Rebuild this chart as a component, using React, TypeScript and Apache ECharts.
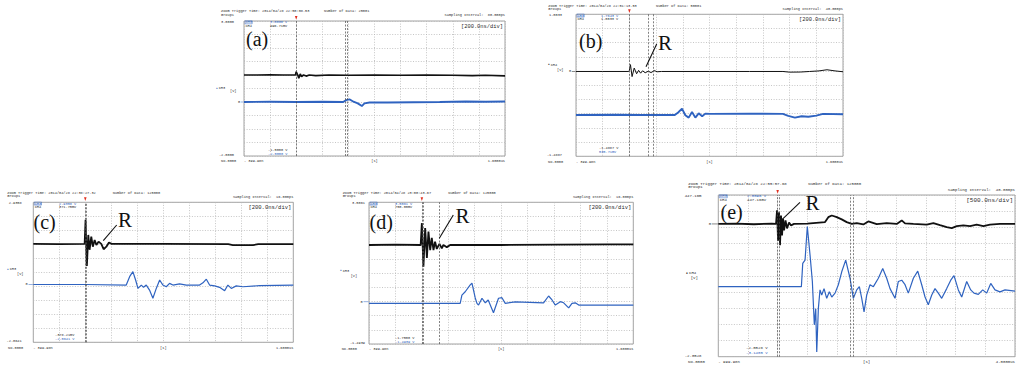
import React, { useEffect, useRef } from 'react';
import * as echarts from 'echarts';

type Pt = [number, number];

// ---------------- data ----------------
const PANEL_LETTERS = ['(a)', '(b)', '(c)', '(d)', '(e)'];
const TRIGGER_TIMES = ['2014/04/28 22:50:08.53', '2014/04/28 22:51:13.53', '2014/04/28 22:38:27.32', '2014/04/28 23:00:43.67', '2014/04/28 22:55:57.68'];
const DATA_COUNTS = ['25001', '50001', '125000', '125000', '125000'];
const SAMPLING_INTERVALS = ['80.000ps', '40.000ps', '16.000ps', '16.000ps', '40.000ps'];
const TIME_DIV_LABELS = ['[200.0ns/div]', '[200.0ns/div]', '[200.0ns/div]', '[200.0ns/div]', '[500.0ns/div]'];
const X_START_LABELS = ['- 399.98n', '- 399.98n', '- 399.98n', '- 399.98n', '- 999.98n'];
const X_END_LABELS = ['1.6000us', '1.6000us', '1.6000us', '1.6000us', '4.0000us'];
const X_MIN = [-400, -400, -400, -400, -1000];
const X_MAX = [1600, 1600, 1600, 1600, 4000];
const X_STEP = [200, 200, 200, 200, 500];
const Y_MIN = [-2, -1.4887, -2.0641, -1.4939, -2.0528];
const Y_MAX = [3, 1.0033, 2.9359, 3.5061, 0.4472];
const Y_STEP = [0.5, 0.2492, 0.5, 0.5, 0.25];
const Y_TOP_LABELS = ['3.0000', '1.0033', '2.9358', '3.5061', '447.16m'];
const Y_BOTTOM_LABELS = ['-2.0000', '-1.4887', '-2.0641', '-1.4939', '-2.0528'];
const Y_CHANNELS = ['CH3', 'CH4', 'CH3', 'CH3', 'CH4'];
const CH3_READOUTS = ['3.0000 V', '1.7643 V', '2.9358 V', '3.5061 V', '2.0096 V'];
const CH4_READOUTS = ['996.71mV', '1.0033 V', '371.75mV', '750.00mV', '447.16mV'];
const CH4_CURSOR = ['-1.5000 V', '-1.4887 V', '-378.21mV', '-1.7500 V', '-2.0528 V'];
const CH3_CURSOR = ['-2.0000 V', '535.71mV', '-2.0641 V', '-1.4939 V', '-3.1405 V'];
const CURSOR_TIMES = [[0, 375, 391], [0, 138, 180], [0, 10], [0, 12, 133], [0, 20, 1230, 1270]];
const HAS_R = [false, true, true, true, true];

// CH4 (black) and CH3 (blue) traces, in volts of each panel's displayed axis, time in ns
const A_BLACK: Pt[] = [[-400, 1.0], [-300, 1.0], [-200, 1.01], [-100, 1.0], [-5, 1.0], [0, 1.12], [12, 1.0], [20, 0.88], [31, 1.04], [41, 0.94], [56, 1.0], [77, 0.96], [100, 1.0], [150, 0.98], [250, 1.0], [400, 0.99], [600, 1.0], [800, 0.99], [1000, 1.0], [1200, 0.99], [1350, 0.98], [1450, 0.99], [1600, 0.97]];
const A_BLUE: Pt[] = [[-400, 0], [-200, 0.01], [0, 0], [200, 0.01], [360, 0], [383, 0.07], [408, 0.1], [439, 0.01], [472, -0.05], [503, -0.15], [523, -0.05], [562, -0.02], [700, -0.02], [900, -0.01], [1100, 0], [1300, 0.02], [1450, 0.01], [1600, 0.02]];

const B_BLACK: Pt[] = [[-400, 0], [-200, 0], [-5, 0], [0, 0.02], [8, 0.12], [20, -0.09], [36, 0.06], [54, -0.04], [69, 0.02], [84, -0.03], [99, 0.012], [118, -0.023], [141, 0.004], [163, -0.02], [186, 0.016], [208, -0.005], [240, 0], [600, 0], [900, 0], [1150, 0], [1200, -0.012], [1280, -0.01], [1350, 0], [1420, 0.01], [1480, 0.03], [1540, 0.01], [1600, -0.005]];
const B_BLUE: Pt[] = [[-400, -0.764], [-100, -0.76], [100, -0.765], [340, -0.764], [365, -0.72], [394, -0.652], [419, -0.769], [444, -0.81], [469, -0.711], [494, -0.81], [519, -0.734], [545, -0.787], [569, -0.74], [607, -0.745], [900, -0.74], [1150, -0.745], [1190, -0.78], [1240, -0.81], [1290, -0.785], [1340, -0.795], [1400, -0.775], [1450, -0.745], [1600, -0.75]];

const C_BLACK: Pt[] = [[-400, 1.45], [-200, 1.44], [-5, 1.45], [0, 1.45], [2, 2.31], [12, 0.66], [23, 1.77], [33, 1.24], [46, 1.71], [58, 1.35], [72, 1.59], [85, 1.41], [102, 1.53], [123, 1.45], [141, 1.26], [162, 1.35], [182, 1.5], [202, 1.45], [600, 1.45], [1100, 1.44], [1135, 1.41], [1290, 1.41], [1330, 1.44], [1600, 1.44]];
const C_BLUE: Pt[] = [[-400, 0], [0, 0], [315, -0.02], [341, 0.28], [366, 0.46], [387, 0.16], [405, -0.14], [431, -0.02], [448, -0.1], [469, -0.02], [494, -0.2], [520, -0.49], [546, -0.14], [572, 0.16], [597, -0.02], [623, -0.08], [648, 0.04], [674, -0.02], [725, 0.02], [777, -0.02], [879, -0.02], [905, 0.06], [931, 0.19], [956, -0.02], [995, -0.05], [1033, -0.1], [1072, -0.22], [1097, -0.02], [1123, -0.14], [1161, -0.05], [1212, -0.08], [1341, -0.04], [1600, -0.02]];

const D_BLACK: Pt[] = [[-400, 2.0], [-200, 2.01], [-9, 2.0], [0, 2.77], [12, 1.23], [25, 2.6], [38, 1.54], [50, 2.47], [63, 1.82], [75, 2.25], [88, 1.82], [100, 2.12], [113, 1.86], [133, 2.04], [151, 1.88], [163, 2.0], [189, 1.92], [214, 2.0], [600, 2.0], [1000, 2.01], [1400, 2.02], [1600, 2.02]];
const D_BLUE: Pt[] = [[-400, -0.06], [290, -0.06], [303, 0.23], [328, 0.35], [366, 0.59], [379, 0.65], [404, 0.13], [417, -0.06], [429, -0.12], [455, 0.12], [480, -0.04], [502, 0.06], [542, -0.39], [580, 0.12], [606, 0.14], [631, -0.06], [707, -0.01], [921, -0.04], [959, 0.2], [985, 0.06], [1010, -0.12], [1048, 0], [1073, -0.04], [1111, -0.22], [1136, -0.06], [1161, -0.04], [1187, -0.12], [1225, -0.12], [1600, -0.12]];

const E_BLACK: Pt[] = [[-1000, 0], [-700, 0.005], [-400, -0.005], [-100, 0.005], [-27, 0], [-10, 0.21], [7, -0.26], [24, 0.18], [40, -0.33], [57, 0.13], [74, -0.18], [91, 0.085], [108, -0.1], [133, 0.054], [158, -0.07], [192, 0.023], [226, -0.023], [276, 0], [500, 0.005], [799, 0.028], [854, 0.105], [912, 0.13], [996, 0.105], [1080, 0.07], [1164, 0.028], [1249, 0], [1333, 0.012], [1444, -0.008], [1528, 0.039], [1670, -0.003], [1838, 0.012], [2007, 0], [2091, 0.054], [2147, 0.008], [2287, 0], [2512, -0.012], [2624, 0.012], [2736, -0.02], [2849, -0.05], [2934, -0.065], [3018, -0.034], [3129, -0.023], [3242, -0.034], [3354, -0.012], [3467, -0.034], [3579, -0.012], [3747, 0], [4000, 0]];
const E_BLUE: Pt[] = [[-1000, -0.97], [400, -0.97], [423, -0.61], [462, -0.56], [500, -0.04], [546, -0.48], [585, -0.89], [618, -1.56], [642, -1.31], [659, -1.98], [686, -1.31], [714, -1.02], [743, -1.1], [782, -1.0], [827, -1.15], [871, -1.05], [912, -1.13], [967, -1.07], [1023, -0.94], [1080, -0.74], [1147, -0.56], [1220, -0.84], [1276, -1.15], [1333, -1.02], [1377, -0.97], [1417, -1.15], [1456, -1.36], [1501, -1.1], [1557, -0.94], [1613, -0.97], [1697, -0.84], [1771, -0.69], [1838, -0.84], [1894, -1.0], [1978, -1.15], [2034, -0.89], [2091, -0.87], [2147, -0.94], [2202, -1.07], [2287, -0.84], [2361, -0.73], [2428, -0.94], [2484, -1.13], [2539, -1.25], [2597, -1.1], [2652, -1.0], [2708, -1.07], [2765, -1.15], [2849, -1.0], [2917, -0.87], [2972, -0.8], [3045, -1.02], [3102, -1.13], [3186, -0.89], [3254, -1.02], [3309, -1.07], [3382, -1.09], [3456, -1.02], [3523, -1.07], [3591, -0.92], [3663, -1.02], [3747, -1.05], [3832, -1.02], [4000, -1.04]];

const BLACK_TRACES = [A_BLACK, B_BLACK, C_BLACK, D_BLACK, E_BLACK];
const BLUE_TRACES = [A_BLUE, B_BLUE, C_BLUE, D_BLUE, E_BLUE];

// ---------------- layout / style ----------------
const BLUE = '#2f63c0';
const INK = '#2a2a2a';
const MONO = '"Liberation Mono", "DejaVu Sans Mono", monospace';
const SERIF = '"Liberation Serif", "DejaVu Serif", serif';

const LAYOUT = [
  { grid: [244, 21, 261, 135], headX: 221, headDy: -9.5, numX: 324, small: 3.6, big: 5.4, yLabR: 234, noX: 221, chNameX: 216, chNameY: 88.3, vDx: 14, vDy: 2.4, zeroX: 239, valX: 270, botX: 268, botDy: [-5.9, -2], letterX: 246, letterY: 38.5, rX: 0, rY: 0, rLine: [0, 0, 0, 0], bw: [1.7, 1.9] },
  { grid: [576, 14.3, 267, 142], headX: 548.3, headDy: -8.3, numX: 656, small: 3.6, big: 5.4, yLabR: 562, noX: 548, chNameX: 548, chNameY: 65, vDx: 9, vDy: 5, zeroX: 570, valX: 601, botX: 599, botDy: [-8, -4.3], letterX: 579, letterY: 40.5, rX: 658, rY: 42.5, rLine: [646, 66.7, 656.7, 44], bw: [1, 1.9] },
  { grid: [33.3, 202.3, 260, 140], headX: 7.3, headDy: -9.6, numX: 112.7, small: 3.6, big: 5.5, yLabR: 21.7, noX: 8, chNameX: 7, chNameY: 269.3, vDx: 10, vDy: 4.7, zeroX: 26.7, valX: 59, botX: 55, botDy: [-6.8, -3], letterX: 33.5, letterY: 221.5, rX: 118, rY: 219.7, rLine: [103.3, 240.7, 116.7, 225], bw: [1.8, 1.2] },
  { grid: [369, 202.3, 264.3, 141.7], headX: 342.7, headDy: -9.6, numX: 448.3, small: 3.6, big: 5.5, yLabR: 365, noX: 341.7, chNameX: 340, chNameY: 271, vDx: 10.7, vDy: 5, zeroX: 361.7, valX: 395, botX: 395, botDy: [-6, -2.2], letterX: 369.5, letterY: 221.5, rX: 455.5, rY: 215.8, rLine: [439.3, 238.3, 453.3, 215], bw: [1.8, 1.2] },
  { grid: [718.3, 195, 296.7, 161.7], headX: 688.3, headDy: -11.5, numX: 808.3, small: 4, big: 6, yLabR: 701.5, noX: 688, chNameX: 686, chNameY: 273.3, vDx: 4.7, vDy: 5, zeroX: 710, valX: 747, botX: 746, botDy: [-8.6, -4.2], letterX: 720.5, letterY: 211.5, rX: 805.5, rY: 203, rLine: [783.3, 218.3, 800, 202.3], bw: [1.8, 1.2] },
];

function txt(x: number, y: number, text: string, size: number, opts: any = {}) {
  const align = opts.align || 'left';
  const va = opts.va || 'middle';
  return {
    type: 'text',
    x,
    y,
    silent: true,
    z: 10,
    style: {
      text,
      fill: opts.fill || INK,
      font: `${opts.weight || 'normal'} ${size}px ${opts.family || MONO}`,
      align,
      verticalAlign: va,
      textAlign: align,
      textVerticalAlign: va,
    },
  };
}

function buildOption() {
  const grids: any[] = [];
  const xAxes: any[] = [];
  const yAxes: any[] = [];
  const series: any[] = [];
  const graphic: any[] = [];
  const split = { show: true, lineStyle: { color: '#b8b8b8', type: [1, 1.6], width: 0.8 } };

  LAYOUT.forEach((L, i) => {
    const [gl, gt, gw, gh] = L.grid;
    const gb = gt + gh;
    const gr = gl + gw;
    grids.push({ left: gl, top: gt, width: gw, height: gh, show: true, borderColor: '#8c8c8c', borderWidth: 0.8, containLabel: false });
    xAxes.push({ gridIndex: i, type: 'value', min: X_MIN[i], max: X_MAX[i], interval: X_STEP[i], axisLine: { show: false }, axisTick: { show: false }, axisLabel: { show: false }, splitLine: split });
    yAxes.push({ gridIndex: i, type: 'value', min: Y_MIN[i], max: Y_MAX[i], interval: Y_STEP[i], axisLine: { show: false }, axisTick: { show: false }, axisLabel: { show: false }, splitLine: split });

    series.push({
      type: 'line', xAxisIndex: i, yAxisIndex: i, data: BLUE_TRACES[i], showSymbol: false, symbol: 'none', silent: true, z: 3,
      lineStyle: { color: BLUE, width: L.bw[1] }, itemStyle: { color: BLUE },
    });
    series.push({
      type: 'line', xAxisIndex: i, yAxisIndex: i, data: BLACK_TRACES[i], showSymbol: false, symbol: 'none', silent: true, z: 4,
      lineStyle: { color: '#111', width: L.bw[0] }, itemStyle: { color: '#111' },
      markLine: {
        silent: true, symbol: ['none', 'none'], label: { show: false },
        lineStyle: { color: '#4a4a4a', type: [2, 1.5], width: 0.7 },
        data: CURSOR_TIMES[i].map((t) => ({ xAxis: t })),
      },
    });

    const s = L.small;
    const fs = L.big;
    const lineGap = s * 0.9;
    const hy = gt + L.headDy;
    // header
    graphic.push(txt(L.headX, hy, `Zoom Trigger Time: ${TRIGGER_TIMES[i]}`, s));
    graphic.push(txt(L.headX, hy + lineGap, 'Group1', s));
    graphic.push(txt(L.numX, hy, `Number of Data: ${DATA_COUNTS[i]}`, s));
    graphic.push(txt(gr, gt - 5.5, `Sampling Interval:  ${SAMPLING_INTERVALS[i]}`, s, { align: 'right' }));
    graphic.push(txt(gr - 2, gt + 5.6, TIME_DIV_LABELS[i], fs, { align: 'right' }));
    // trigger marker
    const trigX = gl + gw * ((0 - X_MIN[i]) / (X_MAX[i] - X_MIN[i]));
    graphic.push({ type: 'polygon', silent: true, z: 10, shape: { points: [[trigX - 1.3, gt - 5], [trigX + 1.3, gt - 5], [trigX, gt - 1.2]] }, style: { fill: '#e03020' } });
    // y labels
    graphic.push(txt(L.yLabR, gt + 0.8, Y_TOP_LABELS[i], s, { align: 'right' }));
    graphic.push(txt(L.yLabR, gb - 0.8, Y_BOTTOM_LABELS[i], s, { align: 'right' }));
    // channel readouts
    const chY1 = gt + 1.3;
    const chY2 = chY1 + s * 0.92;
    graphic.push({ type: 'rect', silent: true, z: 10, shape: { x: gl + 1, y: chY1 - 1.5, width: s * 2.0, height: 3.0 }, style: { fill: 'none', stroke: BLUE, lineWidth: 0.5 } });
    graphic.push(txt(gl + 1.4, chY1, 'CH3', s, { fill: BLUE }));
    graphic.push(txt(gl + 1.4, chY2, 'CH4', s));
    graphic.push(txt(L.valX, chY1, CH3_READOUTS[i], s, { fill: BLUE }));
    graphic.push(txt(L.valX, chY2, CH4_READOUTS[i], s));
    // cursor readouts
    graphic.push(txt(L.botX, gb + L.botDy[0], CH4_CURSOR[i], s));
    graphic.push(txt(L.botX, gb + L.botDy[1], CH3_CURSOR[i], s, { fill: BLUE }));
    // x labels
    const ly = gb + 5.3;
    graphic.push(txt(L.noX, ly, 'No.0000', s));
    graphic.push(txt(gl, ly, X_START_LABELS[i], s));
    graphic.push(txt(gl + gw / 2, ly, '[s]', s, { align: 'center' }));
    graphic.push(txt(gr, ly, X_END_LABELS[i], s, { align: 'right' }));
    // channel name of the y axis
    const chColor = Y_CHANNELS[i] === 'CH3' ? BLUE : '#111';
    graphic.push(txt(L.chNameX, L.chNameY, '●', s * 0.8, { fill: chColor }));
    graphic.push(txt(L.chNameX + s * 0.75, L.chNameY, Y_CHANNELS[i], s));
    graphic.push(txt(L.chNameX + L.vDx, L.chNameY + L.vDy, '[V]', s));
    // zero marker
    const zeroY = gt + gh * (Y_MAX[i] / (Y_MAX[i] - Y_MIN[i]));
    graphic.push(txt(L.zeroX, zeroY, '0', s, { align: 'center' }));
    graphic.push({ type: 'line', silent: true, z: 10, shape: { x1: L.zeroX + 1.8, y1: zeroY, x2: gl - 0.5, y2: zeroY }, style: { stroke: chColor, lineWidth: 0.5 } });
    // panel letter
    graphic.push(txt(L.letterX, L.letterY, PANEL_LETTERS[i], 20, { family: SERIF, fill: '#111' }));
    if (HAS_R[i]) {
      graphic.push(txt(L.rX, L.rY, 'R', 21, { family: SERIF, fill: '#111' }));
      const [x1, y1, x2, y2] = L.rLine;
      graphic.push({ type: 'line', silent: true, z: 10, shape: { x1, y1, x2, y2 }, style: { stroke: '#111', lineWidth: 1.1 } });
    }
  });

  return {
    animation: false,
    backgroundColor: '#ffffff',
    grid: grids,
    xAxis: xAxes,
    yAxis: yAxes,
    series,
    graphic,
  };
}

export default function App() {
  const ref = useRef<HTMLDivElement>(null);
  useEffect(() => {
    if (!ref.current) return;
    const chart = echarts.init(ref.current, null, { renderer: 'svg' });
    chart.setOption(buildOption() as any);
    return () => chart.dispose();
  }, []);
  return (
    <div
      ref={ref}
      style={{ position: 'fixed', left: 0, top: 0, width: 1019, height: 365, background: '#fff' }}
    />
  );
}
